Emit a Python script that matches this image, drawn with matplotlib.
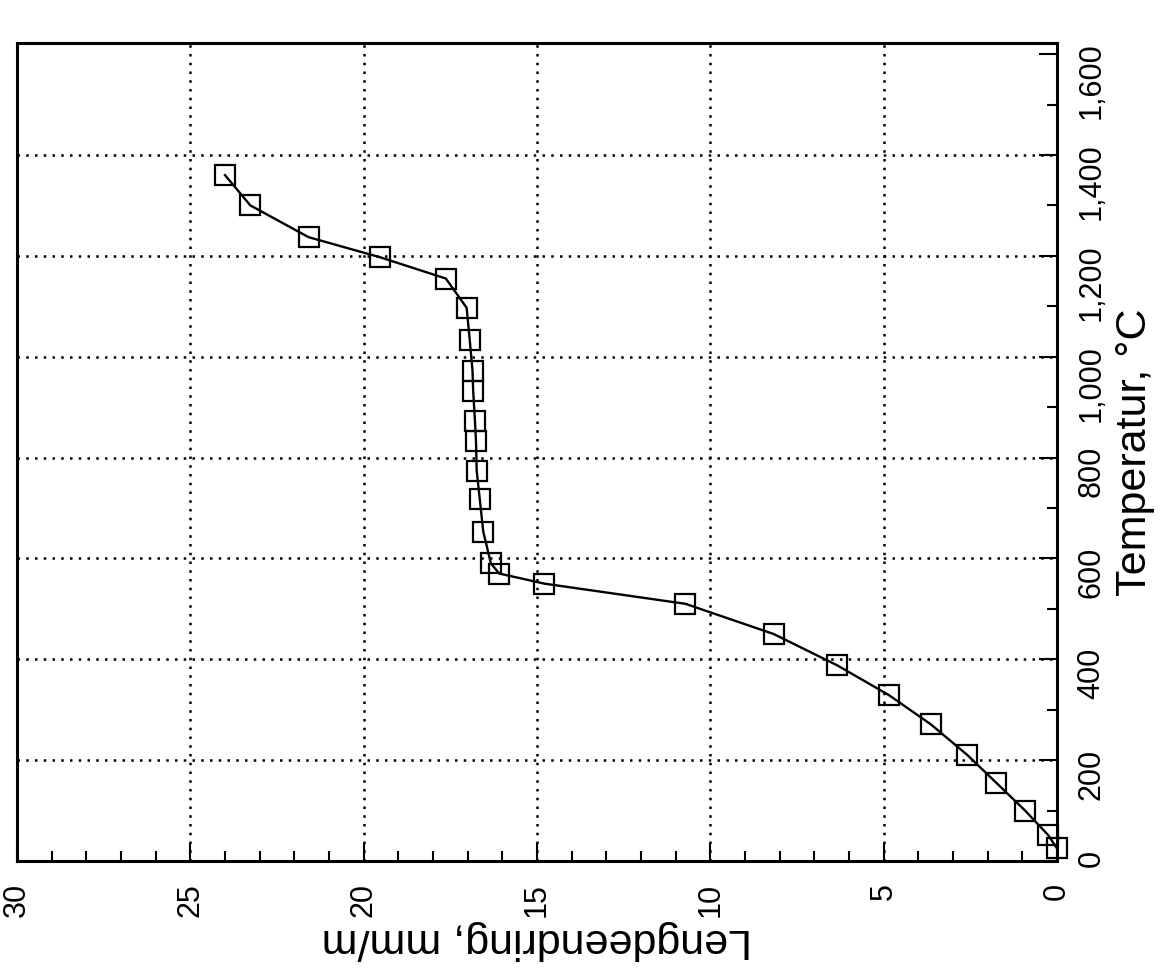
import matplotlib
matplotlib.use('Agg')
import matplotlib.pyplot as plt
from matplotlib.ticker import MultipleLocator, FixedLocator, FixedFormatter

plt.rcParams['font.family'] = ['Liberation Sans', 'DejaVu Sans']

# Data (rotated chart: temperature on the vertical axis, elongation on horizontal, reversed)
temperatur = [25, 51, 100, 155, 211, 271, 329, 388, 450, 510, 550, 570, 590,
              653, 717, 774, 833, 872, 931, 972, 1033, 1097, 1155, 1197, 1237,
              1300, 1360]
lengdeendring = [0.0, 0.25, 0.92, 1.75, 2.60, 3.64, 4.85, 6.34, 8.17, 10.72,
                 14.79, 16.09, 16.33, 16.55, 16.65, 16.74, 16.76, 16.79, 16.84,
                 16.86, 16.94, 17.03, 17.63, 19.52, 21.59, 23.27, 24.0]

x_ticks = [30, 25, 20, 15, 10, 5, 0]
x_tick_labels = ['30', '25', '20', '15', '10', '5', '0']
y_ticks = [0, 200, 400, 600, 800, 1000, 1200, 1400, 1600]
y_tick_labels = ['0', '200', '400', '600', '800', '1,000', '1,200', '1,400', '1,600']

W, H = 1160, 972
fig = plt.figure(figsize=(W / 100, H / 100), dpi=100)
left, right, top, bottom = 17, 1057, 43, 861
ax = fig.add_axes([left / W, 1 - bottom / H, (right - left) / W, (bottom - top) / H])

ax.set_xlim(30, 0)
ax.set_ylim(0, 1622)

# dotted grid at interior major ticks
for xv in x_ticks[1:-1]:
    ax.axvline(xv, color='black', linestyle=(0, (1, 2.5)), linewidth=1.8, zorder=1)
for yv in y_ticks[1:-1]:
    ax.axhline(yv, color='black', linestyle=(0, (1, 2.5)), linewidth=1.8, zorder=1)

ax.plot(lengdeendring, temperatur, color='black', lw=1.7, marker='s', ms=14,
        mfc='none', mec='black', mew=1.6, zorder=3, clip_on=False)

ax.xaxis.set_major_locator(FixedLocator(x_ticks))
ax.xaxis.set_major_formatter(FixedFormatter(x_tick_labels))
ax.xaxis.set_minor_locator(MultipleLocator(1))
ax.yaxis.set_major_locator(FixedLocator(y_ticks))
ax.yaxis.set_major_formatter(FixedFormatter(y_tick_labels))
ax.yaxis.set_minor_locator(MultipleLocator(100))

ax.yaxis.tick_right()
ax.yaxis.set_label_position('right')

ax.tick_params(axis='both', which='both', direction='in', color='black', width=1.5)
ax.tick_params(axis='both', which='major', length=13)
ax.tick_params(axis='both', which='minor', length=7)
ax.tick_params(axis='x', which='major', labelsize=22, labelrotation=90, pad=16)
ax.tick_params(axis='y', which='major', labelsize=22, labelrotation=90, pad=14)
ax.tick_params(left=False, top=False, which='both')

for sp in ax.spines.values():
    sp.set_linewidth(2.2)
    sp.set_color('black')

ax.set_xlabel('Lengdeendring, mm/m', fontsize=31, rotation=180, labelpad=2)
ax.set_ylabel('Temperatur, °C', fontsize=31, rotation=90, labelpad=6)

fig.savefig('out.png', dpi=100, facecolor='white')
